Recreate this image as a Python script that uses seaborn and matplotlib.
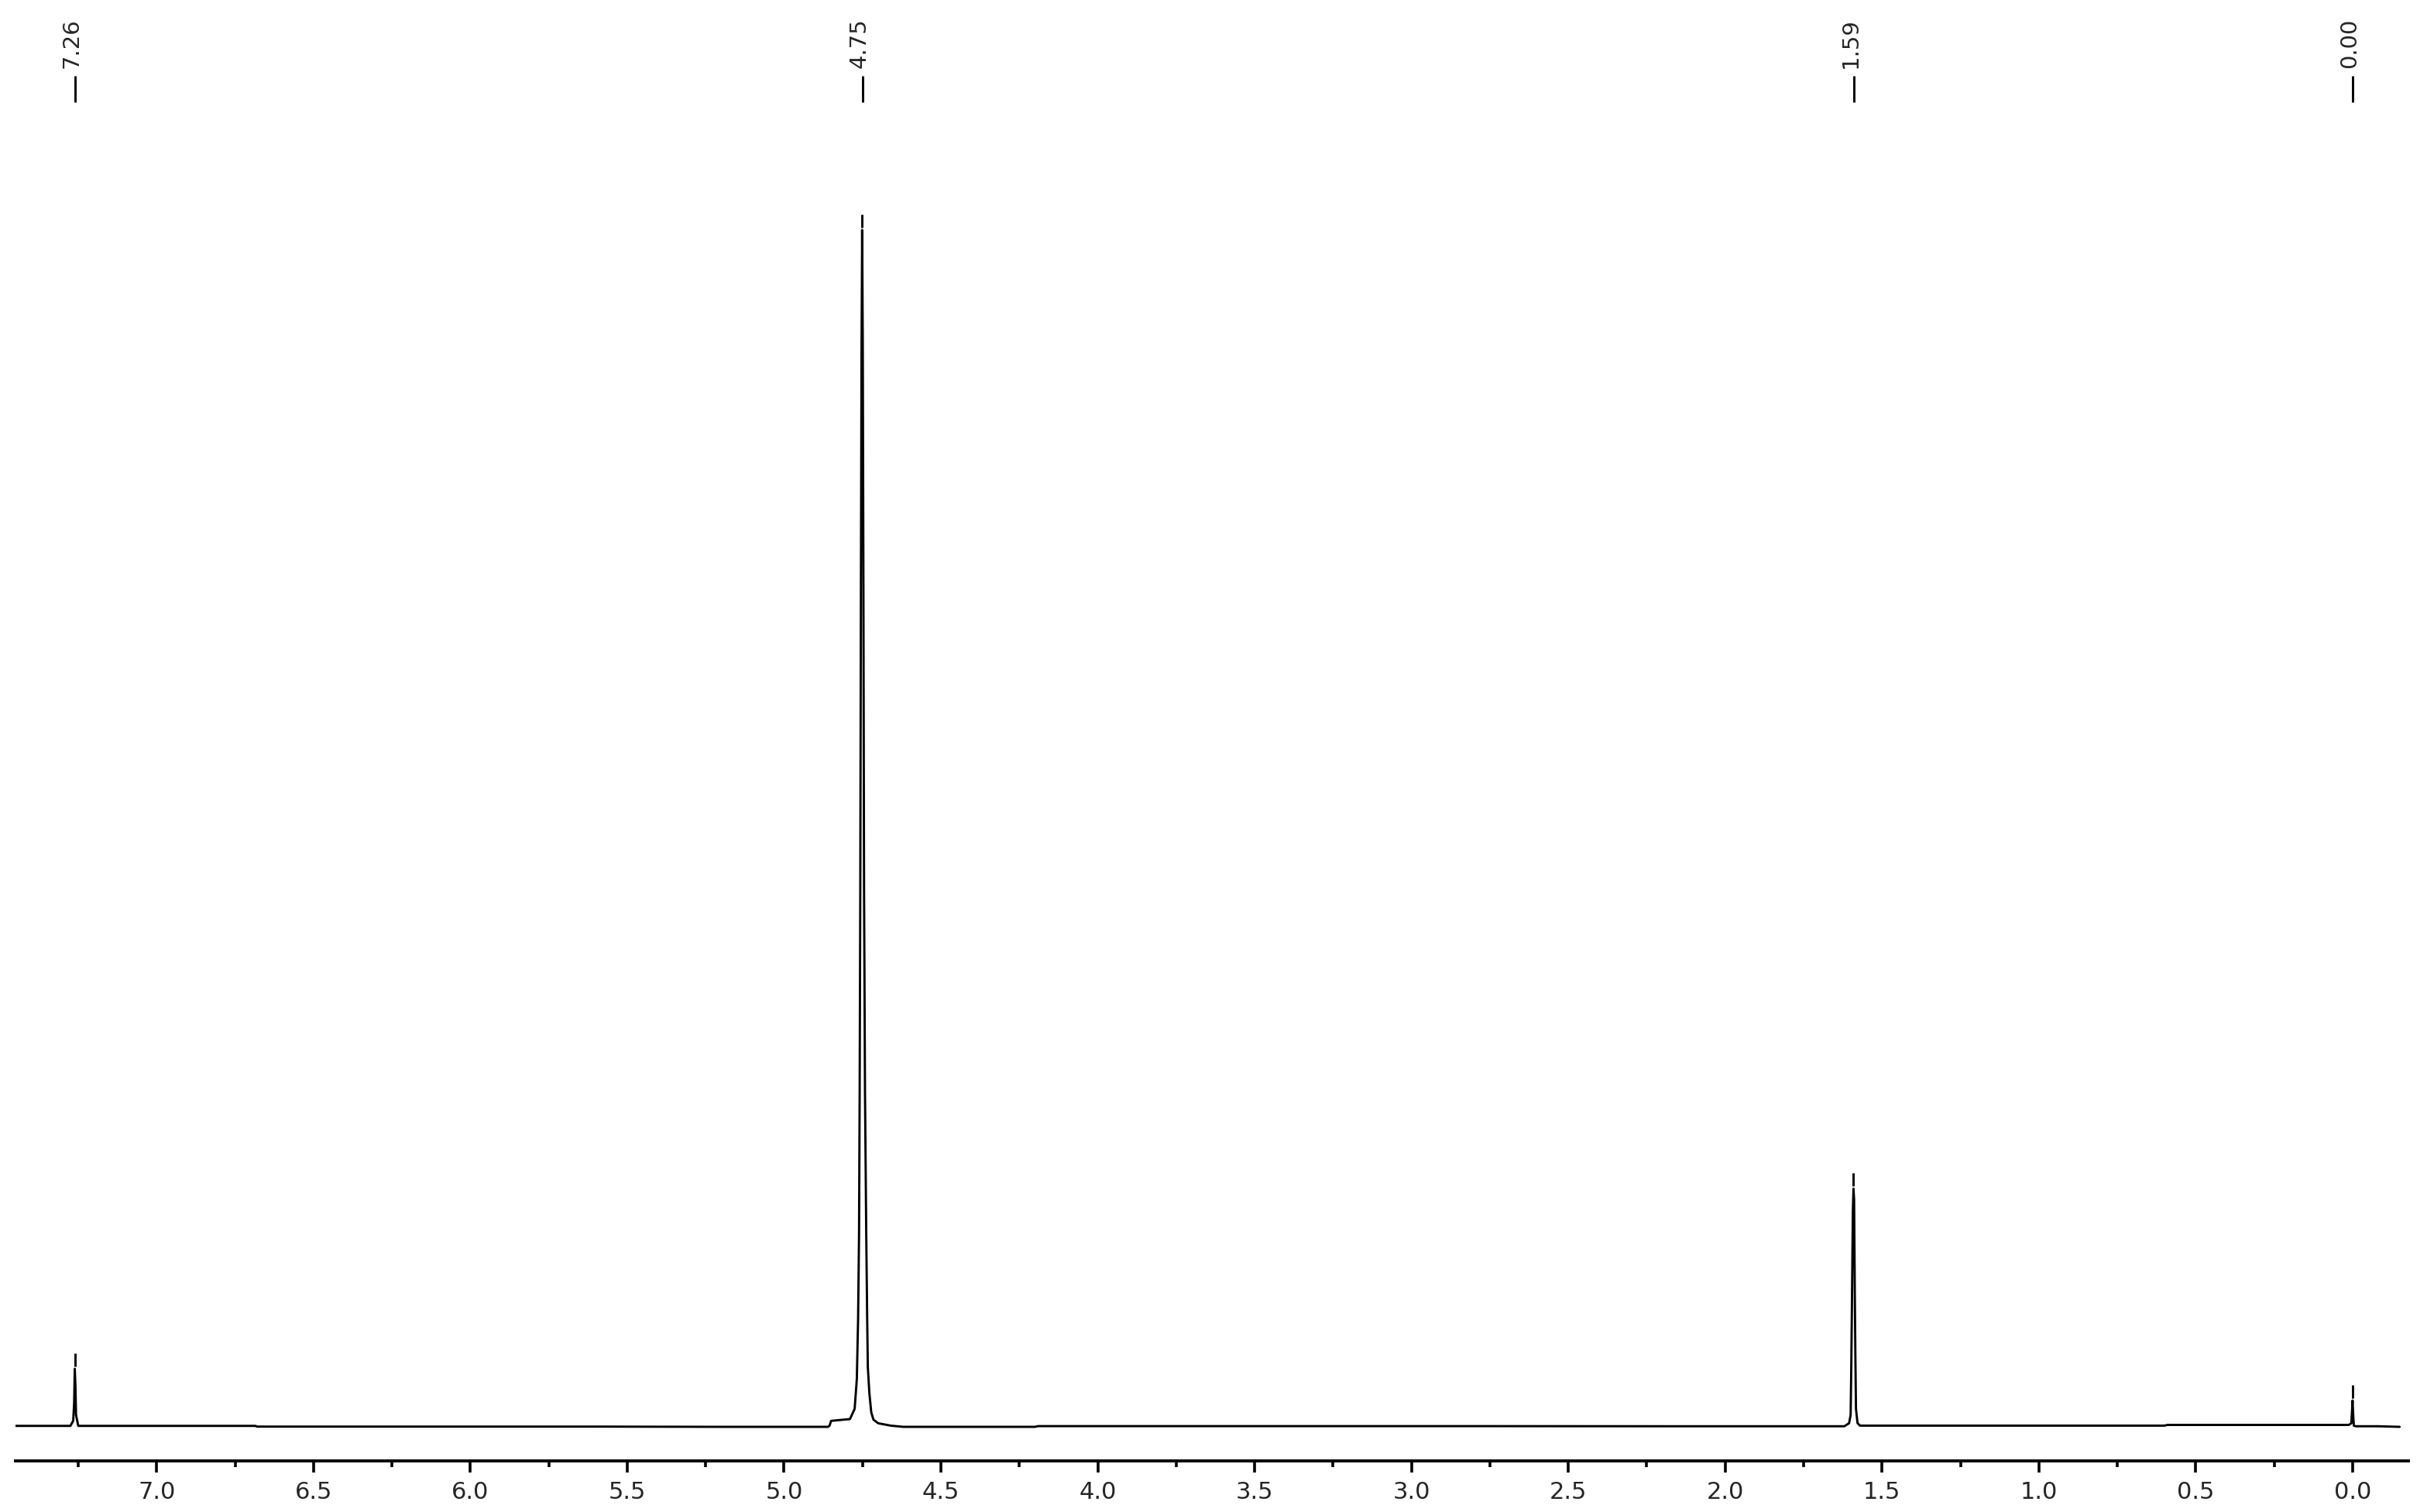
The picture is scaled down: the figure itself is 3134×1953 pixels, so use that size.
import numpy as np
import pandas as pd
import matplotlib
matplotlib.use('Agg')
import matplotlib.pyplot as plt
import matplotlib.transforms as mtransforms
from matplotlib.ticker import MultipleLocator, FormatStrFormatter
import seaborn as sns

# %%
# 1H NMR spectrum (ppm, relative intensity, tallest peak = 100)
base_ppm = [7.45, 7.30, 7.10, 6.90, 6.685, 6.68, 6.20, 5.60, 5.20, 4.90, 4.87,
            4.60, 4.40, 4.20, 4.19, 3.50, 2.80, 2.20, 1.80, 1.63,
            1.56, 1.40, 1.00, 0.60, 0.59, 0.30, 0.10, 0.02,
            -0.02, -0.08, -0.15]
base_int = [0.08, 0.08, 0.08, 0.08, 0.08, 0.02, 0.02, 0.02, 0.0, 0.0, 0.0,
            0.0, 0.0, 0.0, 0.06, 0.06, 0.06, 0.05, 0.05, 0.05,
            0.1, 0.1, 0.1, 0.1, 0.16, 0.16, 0.16, 0.16,
            0.05, 0.05, 0.0]

# CDCl3 residual
peak1_ppm = [7.275, 7.266, 7.263, 7.261, 7.259, 7.257, 7.250]
peak1_int = [0.08, 0.5, 2.0, 4.85, 3.5, 1.0, 0.08]

# water / main signal
peak2_ppm = [4.86, 4.855, 4.85, 4.83, 4.79, 4.775, 4.768, 4.764, 4.761, 4.759,
             4.757, 4.755, 4.753, 4.751, 4.749, 4.747, 4.745, 4.742, 4.738,
             4.735, 4.733, 4.728, 4.722, 4.715, 4.70, 4.66, 4.62]
peak2_int = [0.0, 0.1, 0.5, 0.55, 0.65, 1.5, 4.0, 9.0, 16.0, 28.0,
             45.0, 70.0, 90.0, 100.0, 90.0, 70.0, 45.0, 28.0, 16.0,
             9.0, 5.0, 2.8, 1.2, 0.6, 0.3, 0.1, 0.0]

peak3_ppm = [1.62, 1.605, 1.600, 1.598, 1.596, 1.593, 1.591, 1.589, 1.587,
             1.585, 1.583, 1.578, 1.570]
peak3_int = [0.05, 0.3, 1.0, 5.0, 10.0, 18.0, 19.9, 19.0, 12.0,
             6.0, 1.5, 0.3, 0.1]

# TMS
peak4_ppm = [0.012, 0.004, 0.002, 0.0, -0.002, -0.004, -0.010]
peak4_int = [0.16, 0.3, 1.2, 2.2, 1.0, 0.1, 0.05]

label_ppm = [7.26, 4.75, 1.59, 0.00]
label_text = ['7.26', '4.75', '1.59', '0.00']

# %%
spec = pd.DataFrame({
    'ppm': base_ppm + peak1_ppm + peak2_ppm + peak3_ppm + peak4_ppm,
    'intensity': base_int + peak1_int + peak2_int + peak3_int + peak4_int,
}).sort_values('ppm').reset_index(drop=True)

peaks = [(peak1_ppm, peak1_int), (peak2_ppm, peak2_int),
         (peak3_ppm, peak3_int), (peak4_ppm, peak4_int)]

# %%
sns.set_style('white')
plt.rcParams['font.family'] = ['DejaVu Sans']

W, H = 3134, 1953
fig = plt.figure(figsize=(W / 100, H / 100), dpi=100)
# axis spine sits at y=1887px, baseline at y=1843px
ax = fig.add_axes([20 / W, (H - 1887) / H, 3090 / W, 1887 / H])

sns.lineplot(data=spec, x='ppm', y='intensity', ax=ax, color='black',
             linewidth=2.1, estimator=None, sort=True)

px = 15.46  # pixels per intensity unit
ax.set_xlim(7.45, -0.178)
ax.set_ylim(-44 / px, 1843 / px)

# little marks above every peak top
for pp, ii in peaks:
    k = int(np.argmax(ii))
    ax.vlines(pp[k], ii[k] + 3 / px, ii[k] + 20 / px, color='black', linewidth=2.1)

# peak labels on top
shift = mtransforms.offset_copy(ax.transData, fig=fig, x=-4, y=0, units='dots')
for p, t in zip(label_ppm, label_text):
    ax.vlines(p, (1843 - 132) / px, (1843 - 98) / px, color='black', linewidth=2.1,
              clip_on=False)
    ax.text(p, (1843 - 88) / px, t, rotation=90, ha='center', va='bottom',
            fontsize=21, transform=shift, clip_on=False)

# axis style
for s in ['top', 'left', 'right']:
    ax.spines[s].set_visible(False)
ax.spines['bottom'].set_linewidth(2.8)
ax.spines['bottom'].set_color('black')
ax.set_yticks([])
ax.xaxis.set_major_locator(MultipleLocator(0.5))
ax.xaxis.set_minor_locator(MultipleLocator(0.25))
ax.xaxis.set_major_formatter(FormatStrFormatter('%.1f'))
ax.tick_params(axis='x', which='major', length=10.5, width=2.6, labelsize=22,
               pad=8, color='black', direction='out', bottom=True)
ax.tick_params(axis='x', which='minor', length=6, width=2.6, color='black',
               direction='out', bottom=True)
ax.set_xlabel('')
ax.set_ylabel('')

plt.savefig('out.png', dpi=100, facecolor='white')
